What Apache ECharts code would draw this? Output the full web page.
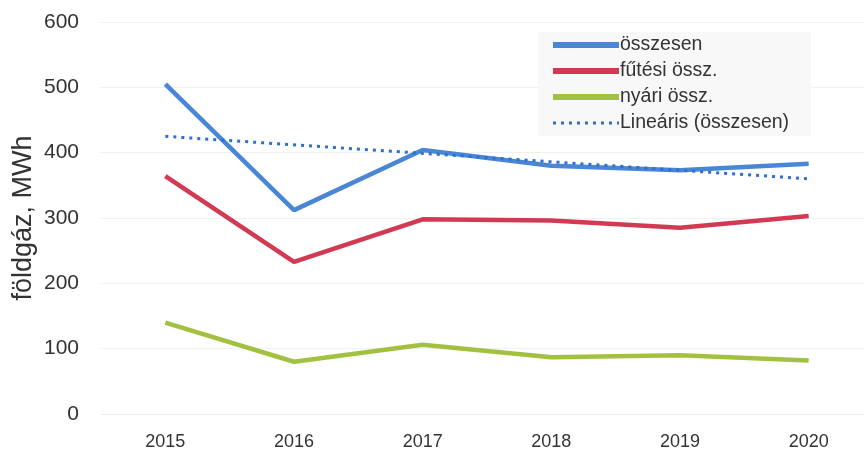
<!DOCTYPE html>
<html><head><meta charset="utf-8">
<script src="https://cdn.jsdelivr.net/npm/echarts@6/dist/echarts.min.js"></script>
<style>html,body{margin:0;padding:0;background:#fff}#c{width:864px;height:455px}</style>
</head><body><div id="c"></div>
<script>
const years = ['2015','2016','2017','2018','2019','2020'];
const osszesen = [505, 312, 404, 380, 373, 383];
const futesi = [364, 233, 298, 296, 285, 303];
const nyari = [140, 80, 106, 87, 90, 82];
const trend = [425, null, null, null, null, 360];
const yTicks = [0, 100, 200, 300, 400, 500, 600];

const FONT = '"Liberation Sans", Arial, sans-serif';
const chart = echarts.init(document.getElementById('c'));
chart.setOption({
  backgroundColor: '#fff',
  animation: false,
  grid: { left: 101, top: 22, width: 772, height: 392, outerBoundsMode: 'none', containLabel: false },
  legend: {
    orient: 'vertical', left: 538, top: 32,
    backgroundColor: '#f8f8f8', padding: [3, 22, 3, 12],
    itemWidth: 66, itemHeight: 20, itemGap: 6,
    itemStyle: { opacity: 0 },
    textStyle: { fontFamily: FONT, fontSize: 19.5, color: '#333', padding: [0, 0, 0, -4] },
    data: [
      { name: 'összesen', lineStyle: { width: 6 } },
      { name: 'fűtési össz.', lineStyle: { width: 6 } },
      { name: 'nyári össz.', lineStyle: { width: 6 } },
      { name: 'Lineáris (összesen)', lineStyle: { width: 3, type: [3, 5] } }
    ]
  },
  xAxis: {
    type: 'category', data: years, boundaryGap: true,
    axisLine: { show: true, lineStyle: { color: '#eeeeee' } },
    axisTick: { show: false },
    axisLabel: { fontFamily: FONT, fontSize: 18, color: '#333', margin: 19 }
  },
  yAxis: {
    type: 'value', min: yTicks[0], max: yTicks[yTicks.length - 1], interval: 100,
    name: 'földgáz, MWh', nameLocation: 'middle', nameRotate: 90, nameGap: 64,
    nameMoveOverlap: false,
    nameTextStyle: { fontFamily: FONT, fontSize: 27, color: '#333' },
    axisLine: { show: false }, axisTick: { show: false },
    axisLabel: { fontFamily: FONT, fontSize: 21, color: '#333', margin: 22 },
    splitLine: { lineStyle: { color: '#f1f1f1', width: 1 } }
  },
  series: [
    { name: 'összesen', type: 'line', data: osszesen, symbol: 'none',
      lineStyle: { color: '#4a86d6', width: 4.5 }, itemStyle: { color: '#4a86d6' }, z: 4 },
    { name: 'fűtési össz.', type: 'line', data: futesi, symbol: 'none',
      lineStyle: { color: '#d23a54', width: 4.5 }, itemStyle: { color: '#d23a54' }, z: 3 },
    { name: 'nyári össz.', type: 'line', data: nyari, symbol: 'none',
      lineStyle: { color: '#a3c140', width: 4.5 }, itemStyle: { color: '#a3c140' }, z: 3 },
    { name: 'Lineáris (összesen)', type: 'line', data: trend, symbol: 'none', connectNulls: true,
      lineStyle: { color: '#2f6fd0', width: 3, type: [3, 5] }, itemStyle: { color: '#2f6fd0' }, z: 5 }
  ]
});
</script></body></html>
